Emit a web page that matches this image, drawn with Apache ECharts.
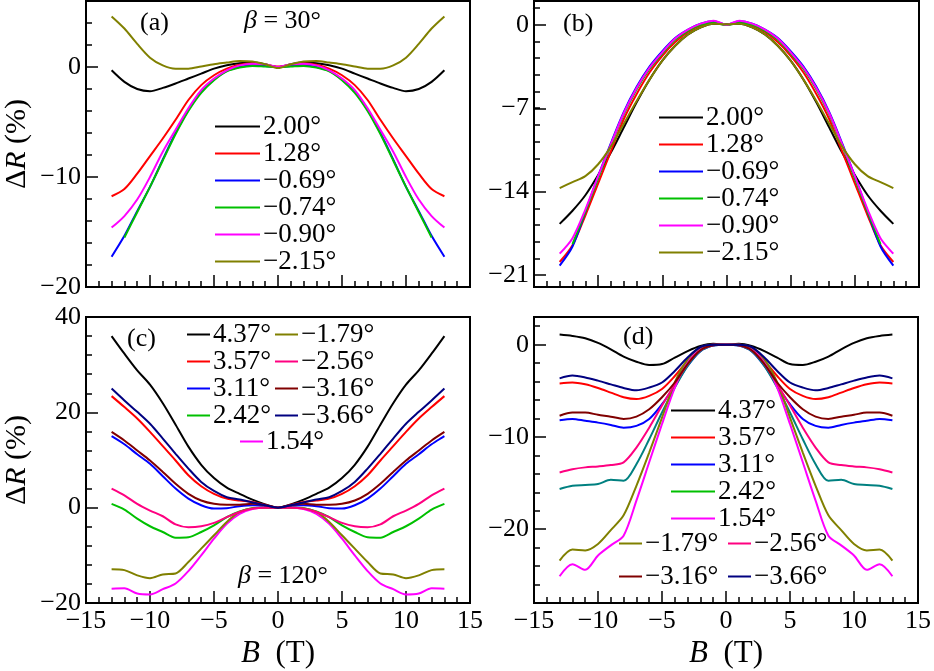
<!DOCTYPE html>
<html><head><meta charset="utf-8">
<script src="https://cdn.jsdelivr.net/npm/echarts@6/dist/echarts.min.js"></script>
<style>html,body{margin:0;padding:0;background:#fff}#c{width:934px;height:671px}</style>
</head><body><div id="c"></div>
<script>
// ---------- data ----------
const B = [-13,-12,-11,-10,-9,-8,-7,-6,-5,-4,-3,-2,-1,0,1,2,3,4,5,6,7,8,9,10,11,12,13];

const aNames = ['2.00°','1.28°','\u22120.69°','\u22120.74°','\u22120.90°','\u22122.15°'];
const a_p200 = [-0.3,-1.35,-2.0,-2.2,-1.9,-1.5,-1.05,-0.6,-0.15,0.15,0.35,0.4,0.25,0.0,0.25,0.4,0.35,0.15,-0.15,-0.6,-1.05,-1.5,-1.9,-2.2,-2.0,-1.35,-0.3];
const a_p128 = [-11.75,-11.1,-9.7,-8.1,-6.5,-4.8,-3.0,-1.65,-0.75,-0.15,0.2,0.35,0.2,0.05,0.2,0.35,0.2,-0.15,-0.75,-1.65,-3.0,-4.8,-6.5,-8.1,-9.7,-11.1,-11.75];
const a_m069 = [-17.25,-15.35,-13.1,-10.9,-8.4,-6.0,-3.9,-2.25,-1.15,-0.35,0.0,0.15,0.1,0.0,0.1,0.15,0.0,-0.35,-1.15,-2.25,-3.9,-6.0,-8.4,-10.9,-13.1,-15.35,-17.25];
const a_m074 = [null,-15.5,-13.2,-10.9,-8.5,-6.1,-4.0,-2.35,-1.2,-0.4,-0.05,0.1,0.05,0.0,0.05,0.1,-0.05,-0.4,-1.2,-2.35,-4.0,-6.1,-8.5,-10.9,-13.2,-15.5,null];
const a_m090 = [-14.6,-13.55,-12.05,-10.0,-7.7,-5.7,-3.75,-2.1,-1.05,-0.3,0.15,0.3,0.25,0.0,0.25,0.3,0.15,-0.3,-1.05,-2.1,-3.75,-5.7,-7.7,-10.0,-12.05,-13.55,-14.6];
const a_m215 = [4.6,3.5,2.1,0.85,0.15,-0.15,-0.15,0.05,0.25,0.4,0.55,0.5,0.25,-0.1,0.25,0.5,0.55,0.4,0.25,0.05,-0.15,-0.15,0.15,0.85,2.1,3.5,4.6];

const b_p200 = [-16.7,-15.6,-14.3,-12.6,-10.7,-8.6,-6.5,-4.6,-3.0,-1.75,-0.8,-0.2,0.1,0.05,0.1,-0.2,-0.8,-1.75,-3.0,-4.6,-6.5,-8.6,-10.7,-12.6,-14.3,-15.6,-16.7];
const b_p128 = [-19.9,-18.5,-16.0,-13.3,-10.6,-7.9,-5.8,-4.0,-2.6,-1.45,-0.6,-0.05,0.2,0.0,0.2,-0.05,-0.6,-1.45,-2.6,-4.0,-5.8,-7.9,-10.6,-13.3,-16.0,-18.5,-19.9];
const b_m069 = [-20.2,-18.6,-15.7,-12.7,-9.9,-7.3,-5.2,-3.5,-2.2,-1.1,-0.4,0.1,0.3,0.0,0.3,0.1,-0.4,-1.1,-2.2,-3.5,-5.2,-7.3,-9.9,-12.7,-15.7,-18.6,-20.2];
const b_m074 = [null,-18.4,-15.7,-12.9,-10.1,-7.5,-5.4,-3.7,-2.4,-1.25,-0.5,0.0,0.15,0.0,0.15,0.0,-0.5,-1.25,-2.4,-3.7,-5.4,-7.5,-10.1,-12.9,-15.7,-18.4,null];
const b_m090 = [-19.2,-17.9,-15.5,-12.7,-10.0,-7.4,-5.3,-3.6,-2.3,-1.15,-0.4,0.1,0.35,0.0,0.35,0.1,-0.4,-1.15,-2.3,-3.6,-5.3,-7.4,-10.0,-12.7,-15.5,-17.9,-19.2];
const b_m215 = [-13.7,-13.2,-12.7,-11.7,-10.2,-8.3,-6.4,-4.6,-3.0,-1.75,-0.8,-0.2,0.1,0.05,0.1,-0.2,-0.8,-1.75,-3.0,-4.6,-6.4,-8.3,-10.2,-11.7,-12.7,-13.2,-13.7];

const c_p437 = [36.0,32.3,28.8,25.8,21.9,17.4,12.8,9.0,6.2,4.2,2.9,1.7,0.7,0.0,0.7,1.7,2.9,4.2,6.2,9.0,12.8,17.4,21.9,25.8,28.8,32.3,36.0];
const c_p357 = [23.4,21.1,18.7,15.9,12.9,9.9,6.8,4.5,2.9,1.9,1.5,1.2,0.6,0.0,0.6,1.2,1.5,1.9,2.9,4.5,6.8,9.9,12.9,15.9,18.7,21.1,23.4];
const c_p311 = [15.0,13.3,11.2,9.2,6.6,4.0,1.9,0.5,-0.2,-0.1,0.3,0.5,0.35,0.0,0.35,0.5,0.3,-0.1,-0.2,0.5,1.9,4.0,6.6,9.2,11.2,13.3,15.0];
const c_p242 = [0.8,-0.4,-2.3,-3.9,-5.1,-6.3,-6.2,-5.1,-3.7,-2.0,-0.8,-0.1,0.0,0.0,0.0,-0.1,-0.8,-2.0,-3.7,-5.1,-6.2,-6.3,-5.1,-3.9,-2.3,-0.4,0.8];
const c_p154 = [-17.0,-16.9,-18.0,-18.2,-17.1,-15.9,-13.3,-10.0,-6.5,-3.4,-1.3,-0.3,0.0,0.0,0.0,-0.3,-1.3,-3.4,-6.5,-10.0,-13.3,-15.9,-17.1,-18.2,-18.0,-16.9,-17.0];
const c_m179 = [-12.9,-13.1,-14.2,-14.8,-14.0,-13.8,-11.4,-8.6,-5.8,-3.0,-0.9,-0.1,0.0,0.0,0.0,-0.1,-0.9,-3.0,-5.8,-8.6,-11.4,-13.8,-14.0,-14.8,-14.2,-13.1,-12.9];
const c_m256 = [4.0,2.6,0.8,-0.6,-1.8,-3.5,-4.1,-3.9,-3.2,-2.0,-0.9,-0.2,0.0,0.0,0.0,-0.2,-0.9,-2.0,-3.2,-3.9,-4.1,-3.5,-1.8,-0.6,0.8,2.6,4.0];
const c_m316 = [15.9,14.1,12.0,9.9,7.5,5.0,2.9,1.5,0.8,0.6,0.6,0.8,0.5,0.0,0.5,0.8,0.6,0.6,0.8,1.5,2.9,5.0,7.5,9.9,12.0,14.1,15.9];
const c_m366 = [25.0,22.5,20.1,17.6,14.5,11.3,8.2,5.4,3.5,2.2,1.7,1.1,0.5,0.0,0.5,1.1,1.7,2.2,3.5,5.4,8.2,11.3,14.5,17.6,20.1,22.5,25.0];

const d_p437 = [1.1,0.95,0.7,0.2,-0.5,-1.3,-1.85,-2.2,-2.1,-1.4,-0.7,-0.15,0.1,0.0,0.1,-0.15,-0.7,-1.4,-2.1,-2.2,-1.85,-1.3,-0.5,0.2,0.7,0.95,1.1];
const d_p357 = [-4.2,-4.1,-4.3,-4.7,-5.2,-5.7,-5.9,-5.55,-4.8,-3.4,-1.75,-0.4,0.0,0.0,0.0,-0.4,-1.75,-3.4,-4.8,-5.55,-5.9,-5.7,-5.2,-4.7,-4.3,-4.1,-4.2];
const d_p311 = [-8.2,-8.05,-8.25,-8.45,-8.7,-9.0,-8.8,-8.05,-6.45,-4.45,-2.3,-0.7,-0.1,0.0,-0.1,-0.7,-2.3,-4.45,-6.45,-8.05,-8.8,-9.0,-8.7,-8.45,-8.25,-8.05,-8.2];
const d_p242 = [-15.65,-15.3,-15.2,-15.1,-14.65,-14.75,-12.95,-10.25,-7.35,-4.65,-2.3,-0.7,-0.1,0.0,-0.1,-0.7,-2.3,-4.65,-7.35,-10.25,-12.95,-14.75,-14.65,-15.1,-15.2,-15.3,-15.65];
const d_p154 = [-25.1,-23.8,-24.4,-22.85,-21.75,-20.7,-16.9,-12.75,-8.6,-4.65,-1.75,-0.4,0.0,0.0,0.0,-0.4,-1.75,-4.65,-8.6,-12.75,-16.9,-20.7,-21.75,-22.85,-24.4,-23.8,-25.1];
const d_m179 = [-23.4,-22.2,-22.3,-21.6,-20.1,-18.5,-15.3,-11.7,-7.9,-4.1,-1.6,-0.3,0.0,0.0,0.0,-0.3,-1.6,-4.1,-7.9,-11.7,-15.3,-18.5,-20.1,-21.6,-22.3,-22.2,-23.4];
const d_m256 = [-13.85,-13.5,-13.3,-13.2,-13.05,-12.75,-11.15,-9.0,-6.6,-4.3,-2.1,-0.6,-0.05,0.0,-0.05,-0.6,-2.1,-4.3,-6.6,-9.0,-11.15,-12.75,-13.05,-13.2,-13.3,-13.5,-13.85];
const d_m316 = [-7.7,-7.35,-7.35,-7.6,-7.8,-8.05,-7.8,-7.0,-5.7,-4.1,-2.1,-0.6,-0.05,0.0,-0.05,-0.6,-2.1,-4.1,-5.7,-7.0,-7.8,-8.05,-7.8,-7.6,-7.35,-7.35,-7.7];
const d_m366 = [-3.65,-3.35,-3.55,-3.9,-4.3,-4.7,-4.95,-4.65,-4.1,-2.85,-1.4,-0.25,0.0,0.0,0.0,-0.25,-1.4,-2.85,-4.1,-4.65,-4.95,-4.7,-4.3,-3.9,-3.55,-3.35,-3.65];

const cdNames = ['4.37°','3.57°','3.11°','2.42°','1.54°','\u22121.79°','\u22122.56°','\u22123.16°','\u22123.66°'];

const yRangeA = [-20, 6],  yTicksA = [-20,-10,0],      yMinorA = [-20, 6, 2];
const yRangeB = [-22, 2],  yTicksB = [-21,-14,-7,0],   yMinorB = [-21, 1.4, 1.4];
const yRangeC = [-20, 40], yTicksC = [-20,0,20,40],    yMinorC = [-20, 40, 4];
const yRangeD = [-28, 3],  yTicksD = [-20,-10,0],      yMinorD = [-28, 2, 2];
const xTicks = [-15,-10,-5,0,5,10,15];

// ---------- styling / layout ----------
const FONT = 'Liberation Serif';
const C = {black:'#000000', red:'#ff0000', blue:'#0000ff', green:'#00c000', magenta:'#ff00ff',
           olive:'#808000', pink:'#ff0080', maroon:'#800000', navy:'#000080', teal:'#008080'};
const fmt = v => (v < 0 ? '\u2212' + Math.abs(v) : String(v));
const lbl = () => ({color:'#000', fontFamily:FONT, fontSize:26});
const tickLine = () => ({color:'#000', width:1.5});

const rects = [
  {left:86, top:1, width:384, height:286},
  {left:534, top:1, width:385, height:286},
  {left:86, top:317, width:384, height:286},
  {left:534, top:317, width:385, height:286}
];
const ranges = [yRangeA, yRangeB, yRangeC, yRangeD];
const majors = [yTicksA, yTicksB, yTicksC, yTicksD];
const minors = [yMinorA, yMinorB, yMinorC, yMinorD];

function subRect(p, lo, hi) {
  const r = rects[p], rg = ranges[p], k = r.height / (rg[1] - rg[0]);
  return {left:r.left, width:r.width, top:r.top + (rg[1] - hi) * k, height:(hi - lo) * k, show:false};
}

const grids = [], xAxes = [], yAxes = [];
const nameStyle = (size) => ({color:'#000', fontFamily:FONT, fontSize:size,
  rich:{i:{fontStyle:'italic', fontFamily:FONT, fontSize:size, color:'#000'}}});

// main grids 0..3
for (let p = 0; p < 4; p++) {
  grids.push(Object.assign({}, rects[p], {show:true, borderColor:'#000', borderWidth:2}));
  const bottom = p >= 2;
  const xa = {
    type:'value', gridIndex:p, min:xTicks[0], max:xTicks[xTicks.length-1], interval:5,
    axisLine:{show:true, onZero:false, lineStyle:{color:'#000', width:2}},
    axisTick:{show:true, inside:true, length:12, lineStyle:tickLine()},
    minorTick:{show:true, splitNumber:5, length:6, lineStyle:tickLine()},
    splitLine:{show:false}, minorSplitLine:{show:false},
    axisLabel:Object.assign({show:bottom, margin:5, formatter:fmt}, lbl())
  };
  if (bottom) { xa.name = '{i|B}  (T)'; xa.nameLocation = 'middle'; xa.nameGap = 35; xa.nameTextStyle = nameStyle(31); }
  xAxes.push(xa);
  const minorOnMain = (p !== 1);
  const ya = {
    type:'value', gridIndex:p, min:ranges[p][0], max:ranges[p][1],
    axisLine:{show:true, onZero:false, lineStyle:{color:'#000', width:2}},
    axisTick:{show:minorOnMain, inside:true, length:6, lineStyle:tickLine()},
    axisLabel:{show:false}, splitLine:{show:false}
  };
  if (minorOnMain) ya.interval = minors[p][2];
  if (p % 2 === 0) { ya.name = '\u0394{i|R} (%)'; ya.nameLocation = 'middle'; ya.nameGap = 54; ya.nameTextStyle = nameStyle(30); }
  yAxes.push(ya);
}
// major tick + label grids 4..7
for (let p = 0; p < 4; p++) {
  const t = majors[p];
  const lo = t[0], hi = t[t.length-1];
  grids.push(subRect(p, lo, hi));
  xAxes.push({type:'value', gridIndex:4+p, min:-15, max:15, show:false});
  yAxes.push({
    type:'value', gridIndex:4+p, min:lo, max:hi, interval:t[1]-t[0],
    axisLine:{show:true, onZero:false, lineStyle:{color:'#000', width:2}},
    axisTick:{show:true, inside:true, length:12, lineStyle:tickLine()},
    axisLabel:Object.assign({show:true, margin:5, formatter:fmt}, lbl()),
    splitLine:{show:false}
  });
}
// minor tick grid for panel (b): 8
{
  const m = minors[1];
  grids.push(subRect(1, m[0], m[1]));
  xAxes.push({type:'value', gridIndex:8, min:-15, max:15, show:false});
  yAxes.push({
    type:'value', gridIndex:8, min:m[0], max:m[1], interval:m[2],
    axisLine:{show:true, onZero:false, lineStyle:{color:'#000', width:2}},
    axisTick:{show:true, inside:true, length:6, lineStyle:tickLine()},
    axisLabel:{show:false}, splitLine:{show:false}
  });
}

function ser(name, arr, color, g) {
  return {name:name, type:'line', xAxisIndex:g, yAxisIndex:g, silent:true,
    data:B.map((b,i) => [b, arr[i]]), symbol:'none', smooth:0.3,
    lineStyle:{color:color, width:2}, itemStyle:{color:color}};
}

const series = [
  ser(aNames[0], a_p200, C.black, 0), ser(aNames[1], a_p128, C.red, 0),
  ser(aNames[2], a_m069, C.blue, 0), ser(aNames[3], a_m074, C.green, 0),
  ser(aNames[4], a_m090, C.magenta, 0), ser(aNames[5], a_m215, C.olive, 0),
  ser(aNames[0], b_p200, C.black, 1), ser(aNames[1], b_p128, C.red, 1),
  ser(aNames[2], b_m069, C.blue, 1), ser(aNames[3], b_m074, C.green, 1),
  ser(aNames[4], b_m090, C.magenta, 1), ser(aNames[5], b_m215, C.olive, 1),
  ser(cdNames[0], c_p437, C.black, 2), ser(cdNames[1], c_p357, C.red, 2),
  ser(cdNames[2], c_p311, C.blue, 2), ser(cdNames[3], c_p242, C.green, 2),
  ser(cdNames[4], c_p154, C.magenta, 2), ser(cdNames[5], c_m179, C.olive, 2),
  ser(cdNames[6], c_m256, C.pink, 2), ser(cdNames[7], c_m316, C.maroon, 2),
  ser(cdNames[8], c_m366, C.navy, 2),
  ser(cdNames[0], d_p437, C.black, 3), ser(cdNames[1], d_p357, C.red, 3),
  ser(cdNames[2], d_p311, C.blue, 3), ser(cdNames[3], d_p242, C.teal, 3),
  ser(cdNames[4], d_p154, C.magenta, 3), ser(cdNames[5], d_m179, C.olive, 3),
  ser(cdNames[6], d_m256, C.pink, 3), ser(cdNames[7], d_m316, C.maroon, 3),
  ser(cdNames[8], d_m366, C.navy, 3)
];

const legColor = {'4.37°':C.black,'3.57°':C.red,'3.11°':C.blue,'2.42°':C.green,'1.54°':C.magenta,
  '\u22121.79°':C.olive,'\u22122.56°':C.pink,'\u22123.16°':C.maroon,'\u22123.66°':C.navy,
  '2.00°':C.black,'1.28°':C.red,'\u22120.69°':C.blue,'\u22120.74°':C.green,'\u22120.90°':C.magenta,'\u22122.15°':C.olive};
function leg(names, left, top, iw, lh, gap) {
  return {
    orient:'vertical', left:left, top:top, padding:0, itemWidth:iw, itemHeight:2, itemGap:gap,
    selectedMode:false, icon:'rect',
    data:names.map(n => ({name:n, icon:'rect', itemStyle:{color:legColor[n], borderWidth:0}})),
    textStyle:{color:'#000', fontFamily:FONT, fontSize:27, lineHeight:lh, padding:[0,0,0,-2]}
  };
}
const legends = [
  leg(aNames, 215, 113, 45, 26, 0),
  leg(aNames, 659, 104, 44, 26, 0),
  leg(cdNames.slice(0,4), 187, 321, 23, 25, 0),
  leg(cdNames.slice(5,9), 275, 321, 23, 25, 0),
  leg([cdNames[4]], 240, 428, 23, 25, 0),
  leg(cdNames.slice(0,5), 671, 397, 44, 26, 0),
  leg([cdNames[5], cdNames[7]], 619, 530, 23, 26, 6),
  leg([cdNames[6], cdNames[8]], 728, 530, 23, 26, 6)
];

const tStyle = {color:'#000', fontFamily:FONT, fontSize:26, fontWeight:'normal',
  rich:{i:{fontStyle:'italic', fontFamily:FONT, fontSize:26, color:'#000'}}};
const titles = [
  {text:'(a)', left:140, top:10}, {text:'{i|β} = 30°', left:244, top:8},
  {text:'(b)', left:563, top:11}, {text:'(c)', left:127, top:326},
  {text:'(d)', left:623, top:324}, {text:'{i|β} = 120°', left:238, top:563}
].map(t => Object.assign(t, {padding:0, textStyle:tStyle}));

const chart = echarts.init(document.getElementById('c'), null, {renderer:'canvas'});
chart.setOption({
  animation:false,
  backgroundColor:'#fff',
  textStyle:{fontFamily:FONT},
  title:titles,
  legend:legends,
  grid:grids,
  xAxis:xAxes,
  yAxis:yAxes,
  series:series
});
</script>
</body></html>
